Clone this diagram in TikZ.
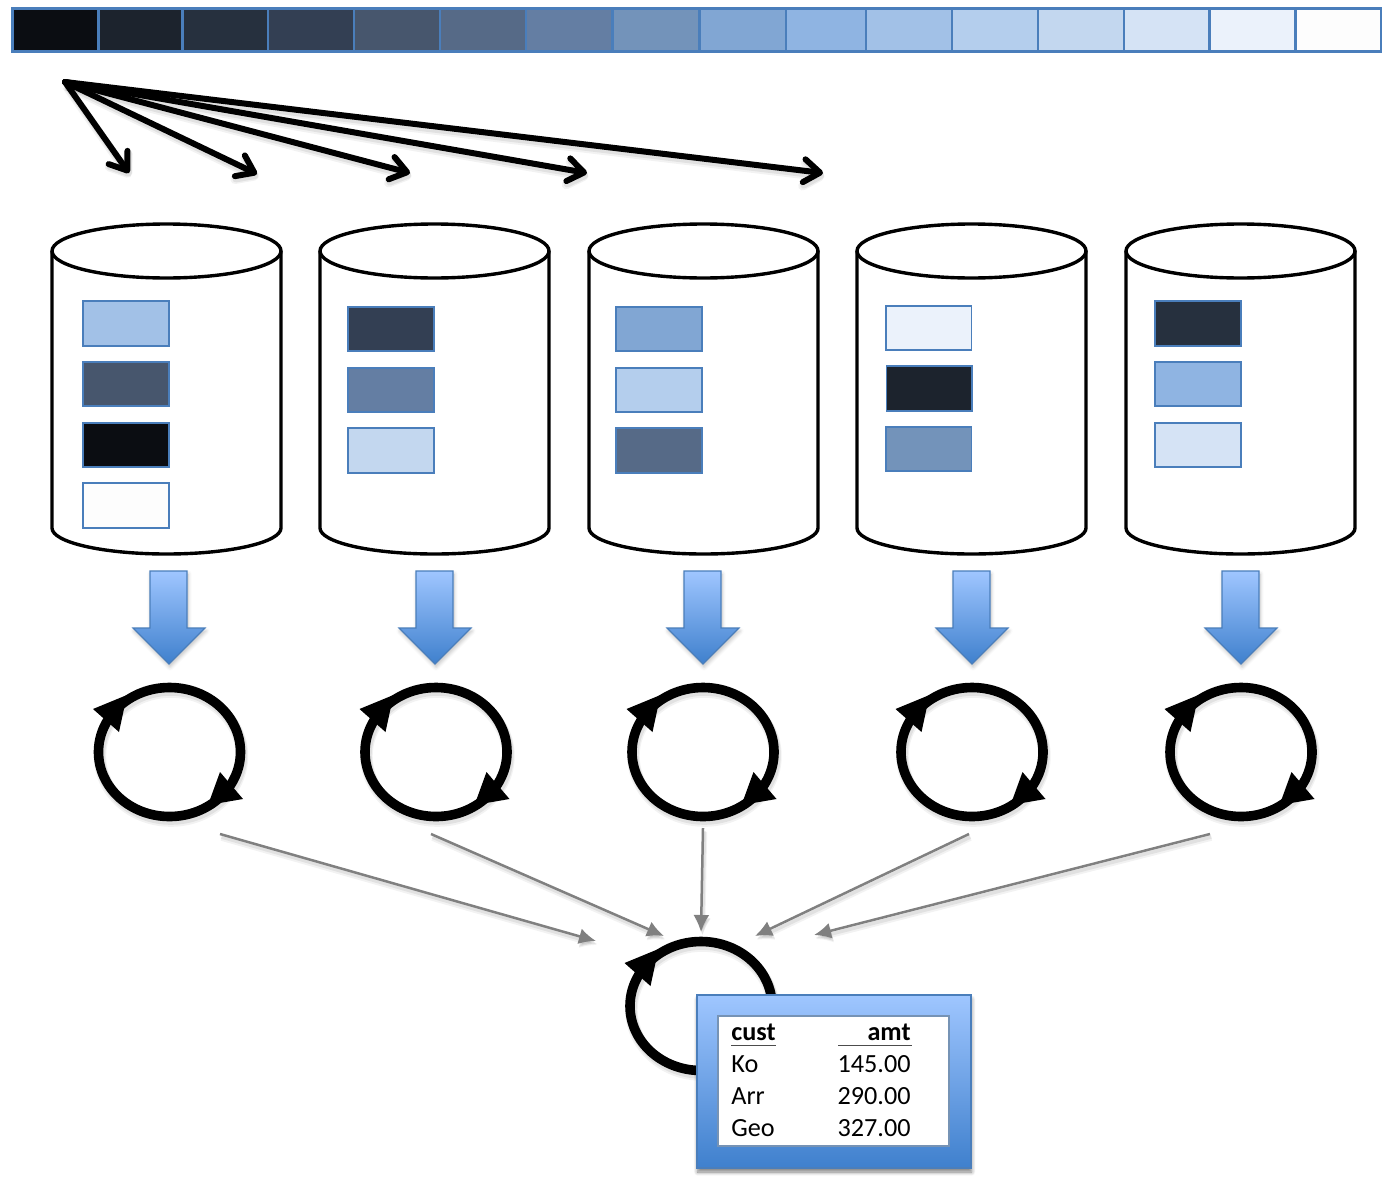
\documentclass[tikz,border=0pt]{standalone}
\usepackage{fontspec}
\setmainfont{Carlito}
\usetikzlibrary{arrows.meta,shapes.geometric,shadows,shadows.blur}

\definecolor{tone1}{HTML}{0B0D12}
\definecolor{tone2}{HTML}{1C232D}
\definecolor{tone3}{HTML}{26303E}
\definecolor{tone4}{HTML}{333F53}
\definecolor{tone5}{HTML}{47566D}
\definecolor{tone6}{HTML}{566A87}
\definecolor{tone7}{HTML}{647EA3}
\definecolor{tone8}{HTML}{7393BA}
\definecolor{tone9}{HTML}{81A6D3}
\definecolor{tone10}{HTML}{8FB4E2}
\definecolor{tone11}{HTML}{A2C1E7}
\definecolor{tone12}{HTML}{B4CEED}
\definecolor{tone13}{HTML}{C3D7EF}
\definecolor{tone14}{HTML}{D5E3F5}
\definecolor{tone15}{HTML}{EBF2FB}
\definecolor{tone16}{HTML}{FDFDFD}
\definecolor{edgeblue}{HTML}{4A7EBB}
\definecolor{gradtop}{HTML}{9FC6FF}
\definecolor{gradbot}{HTML}{3F80CD}

\tikzset{
  softline/.style={
    preaction={draw=black,opacity=0.05,line width=#1+1.5pt,transform canvas={xshift=0.7pt,yshift=-2pt}},
    preaction={draw=black,opacity=0.07,line width=#1+0.5pt,transform canvas={xshift=0.7pt,yshift=-1.5pt}}},
  cell/.style={draw=edgeblue,line width=0.9pt},
  stripcell/.style={draw=edgeblue,line width=1.1pt},
  drum/.style={draw=black,fill=white,line width=1.7pt},
  fanline/.style={softline=3pt,line width=3pt,line cap=round,line join=round,
    -{Straight Barb[length=8pt,width=11.5pt,round]}},
  feedline/.style={softline=1.25pt,draw=black!50,line width=1.25pt,-{Latex[length=8.5pt,width=8pt]}},
  bigdown/.style={draw=edgeblue,line width=0.6pt,top color=gradtop,bottom color=gradbot,
    blur shadow={shadow blur steps=6,shadow xshift=0.5pt,shadow yshift=-1.5pt,shadow opacity=25}},
  resultbox/.style={draw=edgeblue,line width=0.6pt,top color=gradtop,bottom color=gradbot,
    blur shadow={shadow blur steps=6,shadow xshift=0.3pt,shadow yshift=-2pt,shadow opacity=50}},
  innerbox/.style={draw=edgeblue!80!black!70,fill=white,line width=0.7pt},
  ring/.style={softline=4.8pt,draw=black,line width=4.8pt},
  cellsmall/.style={font=\fontsize{13.1}{15}\selectfont,inner sep=0pt}
}

\begin{document}
\begin{tikzpicture}[x=0.5pt,y=-0.5pt]

\useasboundingbox (0,0) rectangle (1395,1188);

\draw[stripcell,fill=tone1]  (12.5,8.5)  rectangle (98.5,51.5);
\draw[stripcell,fill=tone2]  (98.5,8.5)  rectangle (182.5,51.5);
\draw[stripcell,fill=tone3]  (182.5,8.5) rectangle (268,51.5);
\draw[stripcell,fill=tone4]  (268,8.5)   rectangle (354,51.5);
\draw[stripcell,fill=tone5]  (354,8.5)   rectangle (440,51.5);
\draw[stripcell,fill=tone6]  (440,8.5)   rectangle (526,51.5);
\draw[stripcell,fill=tone7]  (526,8.5)   rectangle (612.5,51.5);
\draw[stripcell,fill=tone8]  (612.5,8.5) rectangle (699.5,51.5);
\draw[stripcell,fill=tone9]  (699.5,8.5) rectangle (786,51.5);
\draw[stripcell,fill=tone10] (786,8.5)   rectangle (866,51.5);
\draw[stripcell,fill=tone11] (866,8.5)   rectangle (952,51.5);
\draw[stripcell,fill=tone12] (952,8.5)   rectangle (1038,51.5);
\draw[stripcell,fill=tone13] (1038,8.5)  rectangle (1124,51.5);
\draw[stripcell,fill=tone14] (1124,8.5)  rectangle (1209.5,51.5);
\draw[stripcell,fill=tone15] (1209.5,8.5) rectangle (1295.5,51.5);
\draw[stripcell,fill=tone16] (1295.5,8.5) rectangle (1381,51.5);

% fan from the strip
\coordinate (fan)  at (65,82);
\coordinate (fan1) at (129,173);
\coordinate (fan2) at (257,174);
\coordinate (fan3) at (410,173);
\coordinate (fan4) at (587,173);
\coordinate (fan5) at (823,173);

\draw[fanline] (fan) -- (fan1);
\draw[fanline] (fan) -- (fan2);
\draw[fanline] (fan) -- (fan3);
\draw[fanline] (fan) -- (fan4);
\draw[fanline] (fan) -- (fan5);

% drums
\draw[drum] (52,251) -- (52,528) arc[start angle=180,end angle=0,x radius=114.5,y radius=26] -- (281,251);
\draw[drum] (166.5,251) ellipse [x radius=114.5,y radius=27];
\draw[drum] (320,251) -- (320,528) arc[start angle=180,end angle=0,x radius=114.5,y radius=26] -- (549,251);
\draw[drum] (434.5,251) ellipse [x radius=114.5,y radius=27];
\draw[drum] (589,251) -- (589,528) arc[start angle=180,end angle=0,x radius=114.5,y radius=26] -- (818,251);
\draw[drum] (703.5,251) ellipse [x radius=114.5,y radius=27];
\draw[drum] (857,251) -- (857,528) arc[start angle=180,end angle=0,x radius=114.5,y radius=26] -- (1086,251);
\draw[drum] (971.5,251) ellipse [x radius=114.5,y radius=27];
\draw[drum] (1126,251) -- (1126,528) arc[start angle=180,end angle=0,x radius=114.5,y radius=26] -- (1355,251);
\draw[drum] (1240.5,251) ellipse [x radius=114.5,y radius=27];

\draw[cell,fill=tone11] (83,301) rectangle (169,346);
\draw[cell,fill=tone5]  (83,362) rectangle (169,406);
\draw[cell,fill=tone1]  (83,423) rectangle (169,467);
\draw[cell,fill=tone16] (83,483) rectangle (169,528);

\draw[cell,fill=tone4]  (348,307) rectangle (434,351);
\draw[cell,fill=tone7]  (348,368) rectangle (434,412);
\draw[cell,fill=tone13] (348,428) rectangle (434,473);

\draw[cell,fill=tone9]  (616,307) rectangle (702,351);
\draw[cell,fill=tone12] (616,368) rectangle (702,412);
\draw[cell,fill=tone6]  (616,428) rectangle (702,473);

\draw[cell,fill=tone15] (886,306) rectangle (971.5,350);
\draw[cell,fill=tone2]  (886.5,366) rectangle (972,411);
\draw[cell,fill=tone8]  (886,427) rectangle (971.5,471);

\draw[cell,fill=tone3]  (1155,301) rectangle (1241,346);
\draw[cell,fill=tone10] (1155,362) rectangle (1241,406);
\draw[cell,fill=tone14] (1155,423) rectangle (1241,467);

% block arrows
\path[bigdown] (150,571) -- (187,571) -- (187,628) -- (205,628) -- (169,664) -- (133,628) -- (150,628) -- cycle;
\path[bigdown] (416,571) -- (453,571) -- (453,628) -- (471,628) -- (435,664) -- (399,628) -- (416,628) -- cycle;
\path[bigdown] (684,571) -- (721,571) -- (721,628) -- (739,628) -- (703,664) -- (667,628) -- (684,628) -- cycle;
\path[bigdown] (953,571) -- (990,571) -- (990,628) -- (1008,628) -- (972,664) -- (936,628) -- (953,628) -- cycle;
\path[bigdown] (1222,571) -- (1259,571) -- (1259,628) -- (1277,628) -- (1241,664) -- (1205,628) -- (1222,628) -- cycle;

% loops
\draw[ring] (169.5,752) ellipse [x radius=71,y radius=64.5];
\fill (169.5,752) ++(-76.5,-43) -- ++(34,-14) -- ++(-8,37) -- cycle;
\fill (169.5,752) ++(73.5,47) -- ++(-23,-27) -- ++(-12,33) -- cycle;

\draw[ring] (436,752) ellipse [x radius=71,y radius=64.5];
\fill (436,752) ++(-76.5,-43) -- ++(34,-14) -- ++(-8,37) -- cycle;
\fill (436,752) ++(73.5,47) -- ++(-23,-27) -- ++(-12,33) -- cycle;

\draw[ring] (703,752) ellipse [x radius=71,y radius=64.5];
\fill (703,752) ++(-76.5,-43) -- ++(34,-14) -- ++(-8,37) -- cycle;
\fill (703,752) ++(73.5,47) -- ++(-23,-27) -- ++(-12,33) -- cycle;

\draw[ring] (972,752) ellipse [x radius=71,y radius=64.5];
\fill (972,752) ++(-76.5,-43) -- ++(34,-14) -- ++(-8,37) -- cycle;
\fill (972,752) ++(73.5,47) -- ++(-23,-27) -- ++(-12,33) -- cycle;

\draw[ring] (1241,752) ellipse [x radius=71,y radius=64.5];
\fill (1241,752) ++(-76.5,-43) -- ++(34,-14) -- ++(-8,37) -- cycle;
\fill (1241,752) ++(73.5,47) -- ++(-23,-27) -- ++(-12,33) -- cycle;

% grey arrows into the last loop
\coordinate (from1) at (220,834);
\coordinate (from2) at (431,834);
\coordinate (from3) at (703,828);
\coordinate (from4) at (969,834);
\coordinate (from5) at (1210,834);
\coordinate (into1) at (596,941);
\coordinate (into2) at (664,936);
\coordinate (into3) at (701,932);
\coordinate (into4) at (755,936);
\coordinate (into5) at (814,935);

\draw[feedline] (from1) -- (into1);
\draw[feedline] (from2) -- (into2);
\draw[feedline] (from3) -- (into3);
\draw[feedline] (from4) -- (into4);
\draw[feedline] (from5) -- (into5);

\draw[ring] (701,1006) ellipse [x radius=71,y radius=64.5];
\fill (701,1006) ++(-76.5,-43) -- ++(34,-14) -- ++(-8,37) -- cycle;

% result table
\path[resultbox] (697,995) rectangle (971,1168);
\draw[innerbox] (718,1016) rectangle (949,1146);

\node[cellsmall,anchor=base west] (custhead) at (731,1040) {\textbf{cust}};
\node[cellsmall,anchor=base east] (amthead)  at (911,1040) {\textbf{amt}};
\draw[black!70,line width=0.6pt] (731,1045.5) -- (776,1045.5);
\draw[black!70,line width=0.6pt] (838,1045.5) -- (912,1045.5);

\node[cellsmall,anchor=base west] (name1) at (731,1072) {Ko};
\node[cellsmall,anchor=base west] (name2) at (731,1104) {Arr};
\node[cellsmall,anchor=base west] (name3) at (731,1136) {Geo};
\node[cellsmall,anchor=base east] (amt1)  at (911,1072) {145.00};
\node[cellsmall,anchor=base east] (amt2)  at (911,1104) {290.00};
\node[cellsmall,anchor=base east] (amt3)  at (911,1136) {327.00};

\end{tikzpicture}
\end{document}
